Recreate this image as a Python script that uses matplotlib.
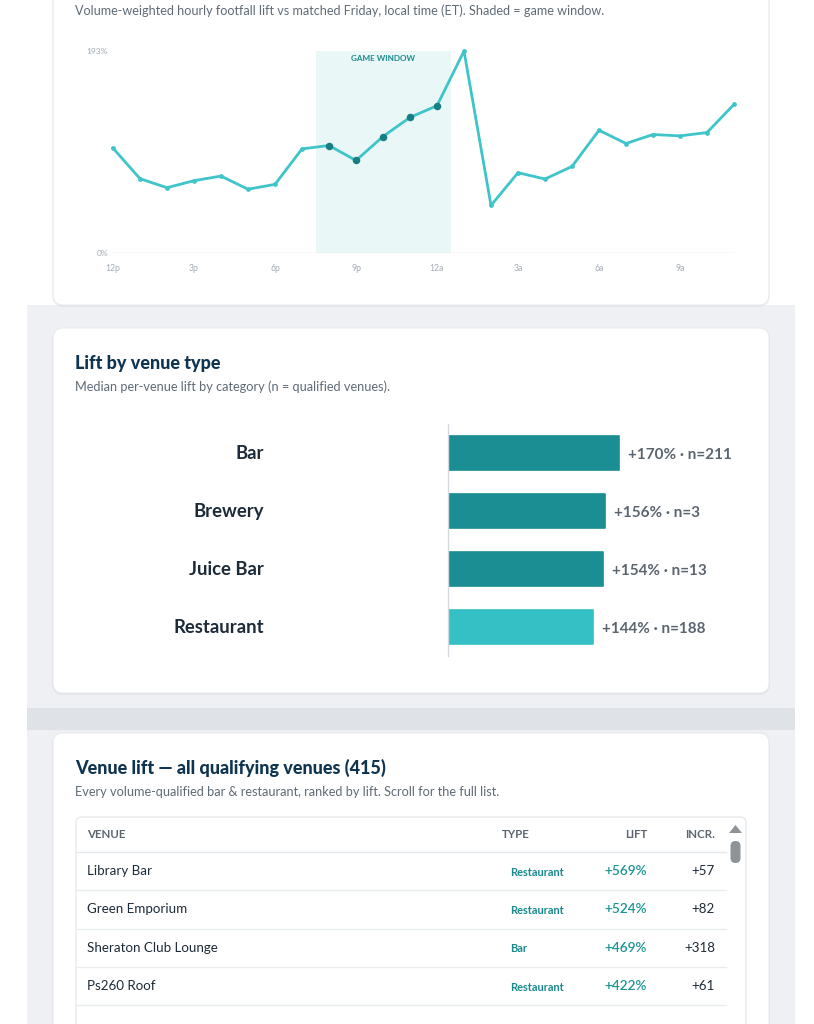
import matplotlib
matplotlib.use("Agg")
import matplotlib.pyplot as plt
from matplotlib.patches import FancyBboxPatch, Rectangle, Polygon
import matplotlib.transforms as mtransforms

W, H = 814, 1024
plt.rcParams['font.family'] = ['Lato', 'DejaVu Sans']

# ---------------- data ----------------
hours = ['12p', '1p', '2p', '3p', '4p', '5p', '6p', '7p', '8p', '9p', '10p', '11p',
         '12a', '1a', '2a', '3a', '4a', '5a', '6a', '7a', '8a', '9a', '10a', '11a']
hourly_lift = [100.2, 71.0, 62.4, 69.1, 73.5, 60.9, 65.6, 99.5, 102.7, 88.4, 111.3, 129.6,
               140.7, 193.0, 45.5, 76.7, 70.7, 82.7, 117.3, 104.6, 113.2, 111.9, 115.1, 142.0]
x_tick_labels = ['12p', '3p', '6p', '9p', '12a', '3a', '6a', '9a']
y_tick_labels = ['0%', '193%']
y_max = 193
game_start, game_end = 7.5, 12.5

categories = ['Bar', 'Brewery', 'Juice Bar', 'Restaurant']
median_lift = [170, 156, 154, 144]
n_venues = [211, 3, 13, 188]

venues = ['Library Bar', 'Green Emporium', 'Sheraton Club Lounge', 'Ps260 Roof']
venue_types = ['Restaurant', 'Restaurant', 'Bar', 'Restaurant']
venue_lift = [569, 524, 469, 422]
venue_incr = [57, 82, 318, 61]
total_venues = 415

# ---------------- colours ----------------
NAVY = '#0f3450'
SUB = '#5f6b76'
DARK = '#1c2b39'
TEAL_D = '#1a8e92'
TEAL_L = '#35c0c6'
LINE = '#3ec4c9'
TEAL_TXT = '#1a8a8e'
GRAYTXT = '#5b6570'


def rect(x, y, w, h):
    return [x / W, 1 - (y + h) / H, w / W, h / H]


fig = plt.figure(figsize=(W / 100, H / 100), dpi=100)
fig.patch.set_facecolor('white')
bg = fig.add_axes([0, 0, 1, 1])
bg.set_xlim(0, W)
bg.set_ylim(H, 0)
bg.axis('off')
bg.set_zorder(0)

# page panels
bg.add_patch(Rectangle((27, 305), 768, 740, color='#eef0f3', lw=0))
bg.add_patch(Rectangle((27, 708), 768, 22, color='#dfe3e7', lw=0))


def card(x, y, w, h):
    bg.add_patch(FancyBboxPatch((x - 1, y + 1), w + 2, h + 1,
                                boxstyle='round,pad=0,rounding_size=11',
                                fc='#000000', alpha=0.045, lw=0))
    bg.add_patch(FancyBboxPatch((x, y), w, h, boxstyle='round,pad=0,rounding_size=10',
                                fc='white', ec='#e7eaed', lw=0.8))


card(53, -30, 716, 335)
card(53, 328, 716, 365)
card(53, 733, 716, 340)

# ---------------- card 1: hourly line ----------------
bg.text(75, 11, 'Volume-weighted hourly footfall lift vs matched Friday, local time (ET). '
        'Shaded = game window.', fontsize=9.1, color=SUB, va='center', ha='left')

ax1 = fig.add_axes(rect(113, 51, 621, 202))
ax1.set_zorder(2)
ax1.patch.set_alpha(0)
xs = list(range(len(hours)))
ax1.set_xlim(0, len(hours) - 1)
ax1.set_ylim(0, y_max)
ax1.axvspan(game_start, game_end, color='#e9f7f7', lw=0, zorder=0)
ax1.axhline(0, color='#dde2e6', lw=1, zorder=1)
ax1.plot(xs, hourly_lift, color=LINE, lw=2, marker='o', ms=2.4, mfc=LINE, mec=LINE,
         zorder=3, clip_on=False)
gx = [x for x in xs if game_start <= x <= game_end]
gy = [hourly_lift[x] for x in gx]
ax1.plot(gx, gy, 'o', ms=4.4, color='#177f84', zorder=4, clip_on=False)
ax1.text((game_start + game_end) / 2, 0.965, 'GAME WINDOW',
         transform=mtransforms.blended_transform_factory(ax1.transData, ax1.transAxes),
         ha='center', va='center', fontsize=5.9, fontweight='bold', color=TEAL_TXT)
ax1.tick_params(axis='x', length=0, pad=8.0)
ax1.tick_params(axis='y', length=0, pad=3.5)
ax1.set_xticks([hours.index(t) for t in x_tick_labels])
ax1.set_xticklabels(x_tick_labels, fontsize=6.2, color='#a3abb3')
ax1.set_yticks([0, y_max])
ax1.set_yticklabels(y_tick_labels, fontsize=6.0, color='#a3abb3')
for s in ax1.spines.values():
    s.set_visible(False)

# ---------------- card 2: venue type bars ----------------
bg.text(75, 363, 'Lift by venue type', fontsize=13, fontweight='black', color=NAVY,
        va='center', ha='left')
bg.text(75, 387, 'Median per-venue lift by category (n = qualified venues).',
        fontsize=9.2, color=SUB, va='center', ha='left')

ax2 = fig.add_axes(rect(449, 424, 320, 232))
ax2.set_zorder(2)
ax2.patch.set_alpha(0)
ax2.set_xlim(0, 320)
ax2.set_ylim(len(categories) - 0.5, -0.5)
ypos = list(range(len(categories)))
bar_colors = [TEAL_L if c == 'Restaurant' else TEAL_D for c in categories]
ax2.barh(ypos, median_lift, height=0.6, color=bar_colors, edgecolor=bar_colors,
         linewidth=1.2, joinstyle='round')
for i, (v, n) in enumerate(zip(median_lift, n_venues)):
    ax2.annotate(f'+{v}% \u00b7 n={n}', xy=(v, i), xytext=(6.5, -1.2),
                 textcoords='offset points', va='center', ha='left',
                 fontsize=11, fontweight='bold', color=GRAYTXT)
    ax2.annotate(categories[i], xy=(0, i), xytext=(-133, -0.5),
                 textcoords='offset points', va='center', ha='right',
                 fontsize=13.3, fontweight='bold', color=DARK, annotation_clip=False)
ax2.set_yticks(ypos)
ax2.set_yticklabels([])
ax2.tick_params(axis='y', length=0)
ax2.set_xticks([])
for k in ['top', 'right', 'bottom']:
    ax2.spines[k].set_visible(False)
ax2.spines['left'].set_color('#d3d9de')
ax2.spines['left'].set_linewidth(1)
ax2.spines['left'].set_position(('outward', 1))

# ---------------- card 3: table ----------------
bg.text(75, 768, f'Venue lift \u2014 all qualifying venues ({total_venues})', fontsize=13,
        fontweight='black', color=NAVY, va='center', ha='left')
bg.text(75, 792, 'Every volume-qualified bar & restaurant, ranked by lift. Scroll for the full list.',
        fontsize=9.2, color=SUB, va='center', ha='left')

bg.add_patch(FancyBboxPatch((76, 817), 670, 260, boxstyle='round,pad=0,rounding_size=6',
                            fc='white', ec='#e3e7ea', lw=0.9))
hdr_y = 834
hdr_kw = dict(fontsize=8.3, fontweight='bold', color=GRAYTXT, va='center')
bg.text(87, hdr_y, 'VENUE', ha='left', **hdr_kw)
bg.text(502, hdr_y, 'TYPE', ha='left', **hdr_kw)
bg.text(647, hdr_y, 'LIFT', ha='right', **hdr_kw)
bg.text(715, hdr_y, 'INCR.', ha='right', **hdr_kw)
bg.plot([76, 726], [852, 852], color='#e5e9ec', lw=1)

row0, row_h = 852, 38.3
for i, (v, t, l, inc) in enumerate(zip(venues, venue_types, venue_lift, venue_incr)):
    cy = row0 + (i + 0.5) * row_h
    bg.text(87, cy, v, fontsize=9.6, color=DARK, va='center', ha='left')
    bg.text(510, cy + 1, t, fontsize=7.9, fontweight='bold', color=TEAL_TXT, va='center', ha='left')
    bg.text(647, cy, f'+{l}%', fontsize=9.8, fontweight='semibold', color='#1a9494',
            va='center', ha='right')
    bg.text(715, cy, f'+{inc}', fontsize=9.6, color=DARK, va='center', ha='right')
    yl = row0 + (i + 1) * row_h
    bg.plot([76, 726], [yl, yl], color='#e9ecef', lw=1)

# scrollbar
bg.add_patch(Polygon([[735.5, 825], [742, 833], [729, 833]], closed=True, color='#8e9398', lw=0))
bg.add_patch(FancyBboxPatch((730.5, 841), 10, 22, boxstyle='round,pad=0,rounding_size=5',
                            fc='#8e9398', lw=0))

fig.savefig('out.png', dpi=100, facecolor='white')
